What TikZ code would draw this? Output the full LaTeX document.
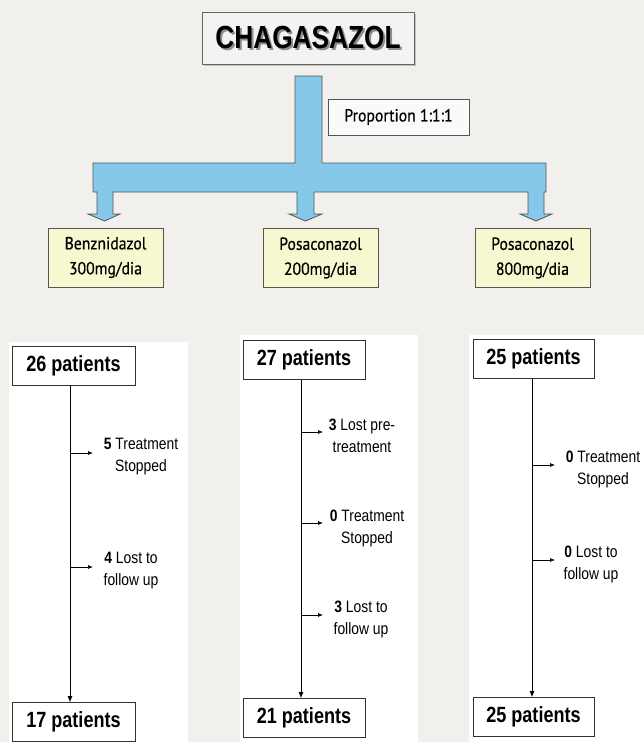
\documentclass[tikz,border=0pt]{standalone}
\usepackage{fontspec}
\setmainfont{Liberation Sans}
\newfontfamily\narrowsans[FakeStretch=0.82]{Liberation Sans}
\newfontfamily\labelsans[FakeStretch=0.84]{Liberation Sans}
\newfontfamily\humsans[FakeStretch=0.9,FakeBold=0.6]{PT Sans}
\usetikzlibrary{arrows.meta}
\definecolor{bg}{HTML}{F1F0EC}
\definecolor{barblue}{HTML}{86C8E9}
\definecolor{drugyellow}{HTML}{F7F7D0}
\definecolor{titlegray}{HTML}{F3F3F3}
\definecolor{edgegray}{HTML}{555555}
\begin{document}
\begin{tikzpicture}[x=1pt,y=-1pt,
  drugbox/.style={draw=edgegray, fill=drugyellow, line width=0.8pt, minimum width=115pt, minimum height=59pt, align=center, font=\humsans\fontsize{17.5}{25}\selectfont, inner sep=0pt},
  ptbox/.style={draw=black!80, fill=white, line width=0.8pt, minimum width=122pt, minimum height=39pt, inner sep=0pt, font=\narrowsans\bfseries\fontsize{22}{26}\selectfont},
  lossnote/.style={align=center, font=\labelsans\fontsize{16.5}{22}\selectfont, inner sep=0pt},
  flow/.style={line width=0.7pt, -{Latex[length=6pt,width=5pt]}},
  branch/.style={line width=0.7pt, -{Latex[length=5pt,width=4pt]}},
  panel/.style={fill=white, draw=none}
]
\useasboundingbox (0,0) rectangle (644,742);
\fill[bg] (0,0) rectangle (644,742);

% white panels
\fill[panel] (9,342) rectangle (188,742);
\fill[panel] (240,335) rectangle (418,742);
\fill[panel] (469,335) rectangle (644,742);

% title
\fill[black!25] (204,14) rectangle (416,66);
\node[draw=black!60, fill=titlegray, line width=0.8pt, minimum width=212pt, minimum height=52pt, inner sep=0pt, text=black, font=\narrowsans\bfseries\fontsize{32}{36}\selectfont] (title) at (308,38) {\rlap{\raisebox{-2pt}{\hspace{2pt}\textcolor{black!45}{CHAGASAZOL}}}CHAGASAZOL};

% blue distribution shape
\filldraw[fill=barblue, draw=edgegray, line width=0.8pt]
  (295,76) -- (322,76) -- (322,163) -- (546,163) -- (546,192) -- (544,192)
  -- (544,214) -- (552,214) -- (536,221) -- (520,214) -- (528,214) -- (528,192)
  -- (314,192) -- (314,214) -- (322,214) -- (305.5,221) -- (289,214) -- (297,214) -- (297,192)
  -- (113,192) -- (113,214) -- (120,214) -- (104.5,221) -- (88,214) -- (97,214) -- (97,192)
  -- (93,192) -- (93,163) -- (295,163) -- cycle;

\node[draw=edgegray, fill=white!60!titlegray, line width=0.8pt, minimum width=141pt, minimum height=36pt, inner sep=0pt, font=\humsans\fontsize{17.5}{20}\selectfont] (prop) at (398.5,117) {Proportion 1:1:1};

% drug boxes
\node[drugbox] (benz) at (105.5,257.5) {Benznidazol\\300mg/dia};
\node[drugbox] (pos200) at (320.5,258) {Posaconazol\\200mg/dia};
\node[drugbox] (pos800) at (532.5,258) {Posaconazol\\800mg/dia};

% column 1
\node[ptbox, minimum width=123pt] (c1top) at (73.5,365.5) {26 patients};
\node[ptbox, minimum width=123pt] (c1bot) at (73.5,722) {17 patients};
\draw[flow] ([xshift=-3.5pt]c1top.south) -- ([xshift=-3.5pt]c1bot.north);
\coordinate (c1a) at (70,453);
\coordinate (c1b) at (70,567);
\draw[branch] (c1a) -- ++(23,0);
\draw[branch] (c1b) -- ++(23,0);
\node[lossnote] (n1a) at (141,457) {\textbf{5} Treatment\\Stopped};
\node[lossnote] (n1b) at (131,571) {\textbf{4} Lost to\\follow up};

% column 2
\node[ptbox] (c2top) at (304,360) {27 patients};
\node[ptbox] (c2bot) at (304,718) {21 patients};
\draw[flow] ([xshift=-3pt]c2top.south) -- ([xshift=-3pt]c2bot.north);
\coordinate (c2a) at (301,432);
\coordinate (c2b) at (301,523);
\coordinate (c2c) at (301,615);
\draw[branch] (c2a) -- ++(22,0);
\draw[branch] (c2b) -- ++(22,0);
\draw[branch] (c2c) -- ++(22,0);
\node[lossnote] (n2a) at (362,436) {\textbf{3} Lost pre-\\treatment};
\node[lossnote] (n2b) at (367,528) {\textbf{0} Treatment\\Stopped};
\node[lossnote] (n2c) at (361,619) {\textbf{3} Lost to\\follow up};

% column 3
\node[ptbox, minimum width=121pt] (c3top) at (533.5,359) {25 patients};
\node[ptbox, minimum width=121pt] (c3bot) at (533.5,717) {25 patients};
\draw[flow] ([xshift=-1.5pt]c3top.south) -- ([xshift=-1.5pt]c3bot.north);
\coordinate (c3a) at (532,465);
\coordinate (c3b) at (532,560);
\draw[branch] (c3a) -- ++(23,0);
\draw[branch] (c3b) -- ++(23,0);
\node[lossnote] (n3a) at (603,469) {\textbf{0} Treatment\\Stopped};
\node[lossnote] (n3b) at (591,564) {\textbf{0} Lost to\\follow up};
\end{tikzpicture}
\end{document}
